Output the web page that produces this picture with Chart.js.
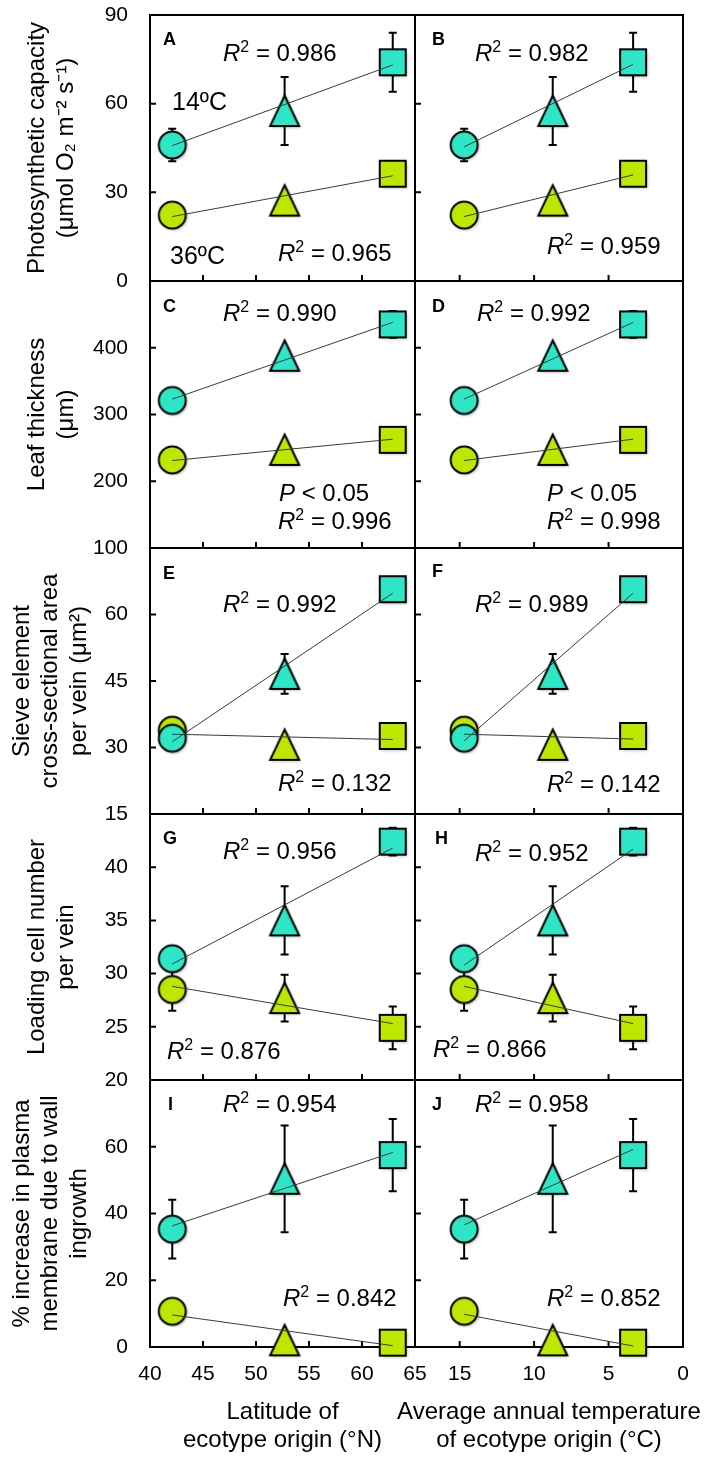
<!DOCTYPE html>
<html>
<head>
<meta charset="utf-8">
<script src="https://cdn.jsdelivr.net/npm/chart.js@4.4.0/dist/chart.umd.min.js"></script>
<style>
body { margin: 0; background: #fff; }
#fig { position: relative; width: 708px; height: 1461px; overflow: hidden; background: #fff; }
#fig canvas { position: absolute; }
</style>
</head>
<body>
<div id="fig"></div>
<script>
// ecotype positions
var latitude = [42.1, 52.7, 62.9];
var temperature = [14.7, 8.75, 3.35];
var latTicks = [40, 45, 50, 55, 60, 65];
var latLabels = ['40', '45', '50', '55', '60', '65'];
var tempTicks = [15, 10, 5, 0];
var tempLabels = ['15', '10', '5', '0'];

// photosynthetic capacity
var photo14 = [46, 57.5, 74];
var photo14Err = [5.5, 11.5, 10];
var photo36 = [22.3, 27.2, 36.3];
var photo36Err = [0, 0, 0];
var photoTicks = [0, 30, 60, 90];
var photoLabels = ['0', '30', '60', '90'];
var fitA14 = [45.8, 73.1], fitA36 = [21.8, 35.6];
var fitB14 = [45.4, 73.3], fitB36 = [21.8, 35.9];

// leaf thickness
var thick14 = [321, 388, 435];
var thick14Err = [0, 0, 20];
var thick36 = [232, 247, 262];
var thick36Err = [0, 0, 0];
var thickTicks = [100, 200, 300, 400, 500];
var thickLabels = ['100', '200', '300', '400', ''];
var fitC14 = [323, 438], fitC36 = [231, 263];
var fitD14 = [323, 438], fitD36 = [231, 263];

// sieve element area
var sieve14 = [32.1, 46.6, 65.7];
var sieve14Err = [0, 4.5, 0];
var sieve36 = [33.9, 30.6, 32.6];
var sieve36Err = [2.8, 0, 0];
var sieveTicks = [15, 30, 45, 60, 75];
var sieveLabels = ['15', '30', '45', '60', ''];
var fitE14 = [31.3, 64.8], fitE36 = [33.0, 31.8];
var fitF14 = [31.5, 64.8], fitF36 = [33.0, 31.9];

// loading cell number
var load14 = [31.4, 35.0, 42.4];
var load14Err = [0, 3.2, 1.3];
var load36 = [28.5, 27.7, 24.9];
var load36Err = [2.0, 2.2, 2.0];
var loadTicks = [20, 25, 30, 35, 40, 45];
var loadLabels = ['20', '25', '30', '35', '40', ''];
var fitG14 = [30.9, 41.8], fitG36 = [28.8, 25.3];
var fitH14 = [30.8, 41.7], fitH36 = [28.8, 25.3];

// wall ingrowth
var wall14 = [35.3, 50.4, 57.5];
var wall14Err = [8.8, 16, 10.8];
var wall36 = [10.7, 2.0, 1.3];
var wall36Err = [0, 0, 0];
var wallTicks = [0, 20, 40, 60, 80];
var wallLabels = ['0', '20', '40', '60', ''];
var fitI14 = [36.3, 58.3], fitI36 = [9.6, 0.4];
var fitJ14 = [36.6, 59.2], fitJ36 = [9.8, 0.3];

var FONT = '"Liberation Sans", Arial, sans-serif';
var CYAN = '#2ee6c6';
var LIME = '#bde600';
var rowTop = [15, 281, 548, 814, 1080];
var rowBottom = [281, 548, 814, 1080, 1347];

Chart.defaults.font.family = FONT;
Chart.defaults.color = '#000';

function marker(shape, fill) {
  var c = document.createElement('canvas');
  c.width = 44; c.height = 44;
  var g = c.getContext('2d');
  g.shadowColor = 'rgba(0,0,0,0.3)';
  g.shadowBlur = 3;
  g.shadowOffsetX = 1.5;
  g.shadowOffsetY = 1.5;
  g.beginPath();
  if (shape == 'circle') g.arc(22, 22, 13.5, 0, Math.PI * 2);
  else if (shape == 'rect') g.rect(9, 9, 26, 26);
  else { g.moveTo(22, 6.5); g.lineTo(36.5, 37); g.lineTo(7.5, 37); g.closePath(); }
  g.fillStyle = fill;
  g.fill();
  g.shadowColor = 'transparent';
  g.lineWidth = 2;
  g.strokeStyle = '#000';
  g.stroke();
  return c;
}
var style14 = [marker('circle', CYAN), marker('tri', CYAN), marker('rect', CYAN)];
var style36 = [marker('circle', LIME), marker('tri', LIME), marker('rect', LIME)];

var panels = [
  { row: 0, col: 0, y14: photo14, e14: photo14Err, y36: photo36, e36: photo36Err, fit14: fitA14, fit36: fitA36,
    ticks: photoTicks, labels: photoLabels, title: ['Photosynthetic capacity', '(μmol O₂ m⁻² s⁻¹)'],
    notes: [{k: 'letter', v: 'A', dx: 13, dy: 23}, {k: 'r2', v: '0.986', dx: 73, dy: 37}, {k: 'txt', v: '14ºC', dx: 22, dy: 86},
            {k: 'txt', v: '36ºC', dx: 20, dy: 240}, {k: 'r2', v: '0.965', dx: 128, dy: 237}] },
  { row: 0, col: 1, y14: photo14, e14: photo14Err, y36: photo36, e36: photo36Err, fit14: fitB14, fit36: fitB36,
    ticks: photoTicks, labels: photoLabels,
    notes: [{k: 'letter', v: 'B', dx: 17, dy: 23}, {k: 'r2', v: '0.982', dx: 60, dy: 37}, {k: 'r2', v: '0.959', dx: 132, dy: 230}] },
  { row: 1, col: 0, y14: thick14, e14: thick14Err, y36: thick36, e36: thick36Err, fit14: fitC14, fit36: fitC36,
    ticks: thickTicks, labels: thickLabels, title: ['Leaf thickness', '(μm)'],
    notes: [{k: 'letter', v: 'C', dx: 13, dy: 24}, {k: 'r2', v: '0.990', dx: 73, dy: 31}, {k: 'p', v: '0.05', dx: 129, dy: 211},
            {k: 'r2', v: '0.996', dx: 128, dy: 239}] },
  { row: 1, col: 1, y14: thick14, e14: thick14Err, y36: thick36, e36: thick36Err, fit14: fitD14, fit36: fitD36,
    ticks: thickTicks, labels: thickLabels,
    notes: [{k: 'letter', v: 'D', dx: 17, dy: 24}, {k: 'r2', v: '0.992', dx: 62, dy: 31}, {k: 'p', v: '0.05', dx: 132, dy: 211},
            {k: 'r2', v: '0.998', dx: 132, dy: 239}] },
  { row: 2, col: 0, y14: sieve14, e14: sieve14Err, y36: sieve36, e36: sieve36Err, fit14: fitE14, fit36: fitE36,
    ticks: sieveTicks, labels: sieveLabels, title: ['Sieve element', 'cross-sectional area', 'per vein (μm²)'],
    notes: [{k: 'letter', v: 'E', dx: 13, dy: 24}, {k: 'r2', v: '0.992', dx: 73, dy: 55}, {k: 'r2', v: '0.132', dx: 128, dy: 234}] },
  { row: 2, col: 1, y14: sieve14, e14: sieve14Err, y36: sieve36, e36: sieve36Err, fit14: fitF14, fit36: fitF36,
    ticks: sieveTicks, labels: sieveLabels,
    notes: [{k: 'letter', v: 'F', dx: 17, dy: 22}, {k: 'r2', v: '0.989', dx: 60, dy: 55}, {k: 'r2', v: '0.142', dx: 132, dy: 235}] },
  { row: 3, col: 0, y14: load14, e14: load14Err, y36: load36, e36: load36Err, fit14: fitG14, fit36: fitG36,
    ticks: loadTicks, labels: loadLabels, title: ['Loading cell number', 'per vein'],
    notes: [{k: 'letter', v: 'G', dx: 13, dy: 23}, {k: 'r2', v: '0.956', dx: 73, dy: 36}, {k: 'r2', v: '0.876', dx: 17, dy: 236}] },
  { row: 3, col: 1, y14: load14, e14: load14Err, y36: load36, e36: load36Err, fit14: fitH14, fit36: fitH36,
    ticks: loadTicks, labels: loadLabels,
    notes: [{k: 'letter', v: 'H', dx: 20, dy: 23}, {k: 'r2', v: '0.952', dx: 60, dy: 38}, {k: 'r2', v: '0.866', dx: 18, dy: 234}] },
  { row: 4, col: 0, y14: wall14, e14: wall14Err, y36: wall36, e36: wall36Err, fit14: fitI14, fit36: fitI36,
    ticks: wallTicks, labels: wallLabels, title: ['% increase in plasma', 'membrane due to wall', 'ingrowth'],
    xtitle: ['Latitude of', 'ecotype origin (°N)'],
    notes: [{k: 'letter', v: 'I', dx: 18, dy: 23}, {k: 'r2', v: '0.954', dx: 73, dy: 23}, {k: 'r2', v: '0.842', dx: 133, dy: 217}] },
  { row: 4, col: 1, y14: wall14, e14: wall14Err, y36: wall36, e36: wall36Err, fit14: fitJ14, fit36: fitJ36,
    ticks: wallTicks, labels: wallLabels,
    xtitle: ['Average annual temperature', 'of ecotype origin (°C)'],
    notes: [{k: 'letter', v: 'J', dx: 17, dy: 23}, {k: 'r2', v: '0.958', dx: 60, dy: 23}, {k: 'r2', v: '0.852', dx: 132, dy: 217}] }
];

function pts(xs, ys) {
  return ys.map(function (v, i) { return {x: xs[i], y: v}; });
}

function drawNote(ctx, n, a) {
  var x = a.left + n.dx;
  var y = a.top + n.dy + 8.5;
  var big = '24px ' + FONT, it = 'italic 24px ' + FONT, sup = '16px ' + FONT;
  var parts;
  if (n.k == 'r2') parts = [['R', it, 0], ['2', sup, -9], [' = ' + n.v, big, 0]];
  else if (n.k == 'p') parts = [['P', it, 0], [' < ' + n.v, big, 0]];
  else if (n.k == 'letter') parts = [[n.v, 'bold 18px ' + FONT, -2]];
  else parts = [[n.v, '25px ' + FONT, 0]];
  ctx.textAlign = 'left';
  ctx.textBaseline = 'alphabetic';
  ctx.fillStyle = '#000';
  parts.forEach(function (p) {
    ctx.font = p[1];
    ctx.fillText(p[0], x, y + p[2]);
    x += ctx.measureText(p[0]).width;
  });
}

function panelPlugin(p, xt) {
  return {
    id: 'panel',
    beforeDatasetsDraw: function (chart) {
      var ctx = chart.ctx, a = chart.chartArea, xs = chart.scales.x, ys = chart.scales.y;
      ctx.save();
      ctx.strokeStyle = '#000';
      ctx.lineWidth = 2;
      ctx.strokeRect(a.left, a.top, a.right - a.left, a.bottom - a.top);
      ctx.beginPath();
      p.ticks.forEach(function (v) {
        var py = ys.getPixelForValue(v);
        ctx.moveTo(a.left, py); ctx.lineTo(a.left + 6, py);
      });
      xt.forEach(function (v) {
        var px = xs.getPixelForValue(v);
        ctx.moveTo(px, a.bottom); ctx.lineTo(px, a.bottom - 6);
      });
      ctx.stroke();
      // error bars, behind the markers
      chart.data.datasets.forEach(function (ds) {
        if (!ds.errors) return;
        ds.data.forEach(function (d, i) {
          var e = ds.errors[i];
          if (!e) return;
          var px = xs.getPixelForValue(d.x);
          var t = ys.getPixelForValue(d.y + e), b = ys.getPixelForValue(d.y - e);
          ctx.beginPath();
          ctx.moveTo(px, t); ctx.lineTo(px, b);
          ctx.moveTo(px - 4, t); ctx.lineTo(px + 4, t);
          ctx.moveTo(px - 4, b); ctx.lineTo(px + 4, b);
          ctx.stroke();
        });
      });
      ctx.restore();
    },
    afterDraw: function (chart) {
      var ctx = chart.ctx, a = chart.chartArea;
      ctx.save();
      p.notes.forEach(function (n) { drawNote(ctx, n, a); });
      if (p.xtitle) {
        ctx.font = '24px ' + FONT;
        ctx.textAlign = 'center';
        ctx.textBaseline = 'middle';
        ctx.fillStyle = '#000';
        var cx = (a.left + a.right) / 2;
        ctx.fillText(p.xtitle[0], cx, a.bottom + 65);
        ctx.fillText(p.xtitle[1], cx, a.bottom + 93);
      }
      ctx.restore();
    }
  };
}

var fig = document.getElementById('fig');

panels.forEach(function (p) {
  var left = p.col == 0;
  var bottom = p.row == 4;
  var top = rowTop[p.row] - 15;
  var h = (bottom ? 1461 : rowBottom[p.row] + 15) - top;
  var cv = document.createElement('canvas');
  cv.width = left ? 430 : 328;
  cv.height = h;
  cv.style.left = (left ? 0 : 380) + 'px';
  cv.style.top = top + 'px';
  fig.appendChild(cv);

  var xv = left ? latitude : temperature;
  var xt = left ? latTicks : tempTicks;
  var xl = left ? latLabels : tempLabels;

  new Chart(cv, {
    type: 'scatter',
    data: {
      datasets: [
        { data: [{x: xv[0], y: p.fit14[0]}, {x: xv[2], y: p.fit14[1]}], showLine: true,
          borderColor: '#3a3a3a', borderWidth: 1, pointRadius: 0, clip: false },
        { data: [{x: xv[0], y: p.fit36[0]}, {x: xv[2], y: p.fit36[1]}], showLine: true,
          borderColor: '#3a3a3a', borderWidth: 1, pointRadius: 0, clip: false },
        { data: pts(xv, p.y14), errors: p.e14, pointStyle: style14, pointRadius: 14, clip: false },
        { data: pts(xv, p.y36), errors: p.e36, pointStyle: style36, pointRadius: 14, clip: false }
      ]
    },
    options: {
      responsive: false,
      animation: false,
      devicePixelRatio: 1,
      events: [],
      layout: { padding: { left: left ? 0 : 35, right: left ? 15 : 25, top: 15, bottom: bottom ? 0 : 15 } },
      plugins: { legend: { display: false }, tooltip: { enabled: false } },
      scales: {
        x: {
          type: 'linear',
          min: left ? 40 : 0,
          max: left ? 65 : 18,
          reverse: !left,
          display: bottom,
          grid: { display: false, drawTicks: false },
          border: { display: false },
          afterBuildTicks: function (s) { s.ticks = xt.map(function (v) { return {value: v}; }); },
          afterFit: function (s) {
            s.height = bottom ? 114 : 0;
            s.paddingLeft = 0; s.paddingRight = 0;
          },
          ticks: {
            padding: 15, autoSkip: false, maxRotation: 0, color: '#000',
            font: { family: FONT, size: 21 },
            callback: function (v, i) { return xl[i]; }
          }
        },
        y: {
          type: 'linear',
          min: p.ticks[0],
          max: p.ticks[p.ticks.length - 1],
          display: left,
          grid: { display: false, drawTicks: false },
          border: { display: false },
          afterBuildTicks: function (s) { s.ticks = p.ticks.map(function (v) { return {value: v}; }); },
          afterFit: function (s) {
            s.width = left ? 150 : 0;
            s.paddingTop = 0; s.paddingBottom = 0;
          },
          ticks: {
            padding: 22, autoSkip: false, color: '#000',
            font: { family: FONT, size: 21 },
            callback: function (v, i) { return p.labels[i]; }
          },
          title: {
            display: !!p.title,
            text: p.title || '',
            color: '#000',
            font: { family: FONT, size: 24, lineHeight: 1.2 },
            padding: { top: p.title && p.title.length > 2 ? 7.5 : 23, bottom: 0 }
          }
        }
      }
    },
    plugins: [panelPlugin(p, xt)]
  });
});
</script>
</body>
</html>
